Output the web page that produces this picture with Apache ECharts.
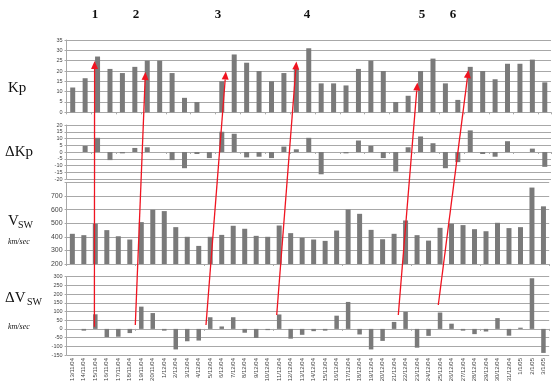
<!DOCTYPE html>
<html>
	<head>
		<meta charset="utf-8">
	</head>
	<body style="margin: 0">
		<div id="container" style="width: 555px; height: 391px"></div>
		<script type="text/javascript" src="https://cdn.jsdelivr.net/npm/echarts@6/dist/echarts.min.js"></script>
		<script type="text/javascript">
			// Kp panel (39 days) and its day-to-day change
			const kpDays = ['1', '2', '3', '4', '5', '6', '7', '8', '9', '10', '11', '12', '13', '14', '15', '16', '17', '18', '19', '20',
				'21', '22', '23', '24', '25', '26', '27', '28', '29', '30', '31', '32', '33', '34', '35', '36', '37', '38', '39']
			const kpValues = [12, 16.5, 27, 21, 19, 22, 25, 25, 19, 7, 5, 0, 15, 28, 24, 20, 15, 19, 21, 31,
				14, 14, 13, 21, 25, 20, 5, 8, 20, 26, 14, 6, 22, 20, 16, 23.5, 23.5, 25.5, 14.5]
			const dKpValues = [null, 4.5, 10.5, -6, -1, 3, 3.5, 0, -6, -12, -1.5, -4.5, 15, 13.5, -4, -3.5, -4.5, 4, 2, 10.5,
				-16.5, 0, -1, 8.5, 4.5, -4.5, -14.5, 3.5, 11.5, 6.5, -12, -7.5, 16, -1.5, -3.5, 8, 0, 2.5, -11]

			// solar wind speed panel (42 days)
			const dates = ['13/11/04', '14/11/04', '15/11/04', '16/11/04', '17/11/04', '18/11/04', '19/11/04', '20/11/04',
				'1/12/04', '2/12/04', '3/12/04', '4/12/04', '5/12/04', '6/12/04', '7/12/04', '8/12/04', '9/12/04', '10/12/04',
				'11/12/04', '12/12/04', '13/12/04', '14/12/04', '15/12/04', '16/12/04', '17/12/04', '18/12/04', '19/12/04',
				'20/12/04', '21/12/04', '22/12/04', '23/12/04', '24/12/04', '25/12/04', '26/12/04', '27/12/04', '28/12/04',
				'29/12/04', '30/12/04', '31/12/04', '1/1/05', '2/1/05', '3/1/05']
			const vswValues = [422, 412, 496, 449, 404, 380, 508, 599, 589, 471, 400, 333, 400, 414, 481, 459, 407, 400, 483, 427,
				393, 380, 370, 446, 601, 569, 451, 382, 422, 520, 412, 372, 466, 496, 486, 456, 441, 503, 464, 471, 762, 624]
			const dVswValues = [null, -10, 84, -47, -45, -24, 128, 91, -10, -118, -71, -67, 67, 14, 67, -22, -52, -7, 83, -56,
				-34, -13, -10, 76, 155, -32, -118, -69, 40, 98, -108, -40, 94, 30, -10, -30, -15, 62, -39, 7, 291, -138]

			const markers = ['1', '2', '3', '4', '5', '6']

			var chartDom = document.getElementById('container');
			var myChart = echarts.init(chartDom);

			var gridColor = '#a8a8a8'
			var barColor = '#7a7a7a'
			var red = '#f01420'

			function valueAxis(gridIndex, min, max, interval, size, hideTop) {
				return {
					gridIndex: gridIndex,
					type: 'value',
					min: min,
					max: max,
					interval: interval,
					axisLine: { show: true, lineStyle: { color: gridColor } },
					axisTick: { show: true, length: 2, lineStyle: { color: gridColor } },
					splitLine: { show: true, lineStyle: { color: gridColor, width: 1 } },
					axisLabel: {
						fontSize: size,
						fontFamily: 'Liberation Sans',
						color: '#444',
						margin: 4,
						formatter: function (v) { return (hideTop && v === max) ? '' : v }
					}
				}
			}

			function catAxis(gridIndex, data) {
				return {
					gridIndex: gridIndex,
					type: 'category',
					data: data,
					axisLine: { show: true, lineStyle: { color: gridColor } },
					axisTick: { show: true, length: 2, lineStyle: { color: gridColor } },
					axisLabel: { show: false }
				}
			}

			function arrow(x1, y1, x2, y2) {
				var dx = x2 - x1, dy = y2 - y1
				var len = Math.sqrt(dx * dx + dy * dy)
				var ux = dx / len, uy = dy / len
				var hl = 8, hw = 3.5
				var bx = x2 - ux * hl, by = y2 - uy * hl
				return [{
					type: 'line',
					z: 100,
					shape: { x1: x1, y1: y1, x2: bx, y2: by },
					style: { stroke: red, lineWidth: 1.3 }
				}, {
					type: 'polygon',
					z: 100,
					shape: { points: [[x2, y2], [bx - uy * hw, by + ux * hw], [bx + uy * hw, by - ux * hw]] },
					style: { fill: red }
				}]
			}

			function label(text, x, y, size, extra) {
				return {
					type: 'text',
					x: x,
					y: y,
					style: Object.assign({
						text: text,
						font: size + 'px "Liberation Serif"',
						fill: '#111',
						textVerticalAlign: 'middle'
					}, extra || {})
				}
			}

			var markerX = [95, 136, 218, 307, 422, 453]
			var graphics = []
			markers.forEach(function (m, i) {
				graphics.push(label(m, markerX[i], 15, 13, { font: 'bold 13px "Liberation Serif"', textAlign: 'center' }))
			})
			graphics.push(label('Kp', 8, 88, 15))
			graphics.push(label('\u0394Kp', 5, 152, 15))
			graphics.push(label('V', 8, 221, 15))
			graphics.push(label('SW', 18, 225, 10))
			graphics.push(label('km/sec', 8, 242, 8, { font: 'italic 8px "Liberation Serif"' }))
			graphics.push(label('\u0394V', 5, 298, 15))
			graphics.push(label('SW', 27, 302, 10))
			graphics.push(label('km/sec', 8, 327, 8, { font: 'italic 8px "Liberation Serif"' }))
			// red arrows linking the panels
			graphics = graphics.concat(
				arrow(94.4, 326.7, 94.6, 61),
				arrow(135.3, 325, 145.4, 72),
				arrow(206, 325, 225.8, 71.5),
				arrow(276.7, 315, 296.4, 61.5),
				arrow(398.3, 315, 417.4, 82.5),
				arrow(438.3, 305, 468.4, 70)
			)

			var option = {
				animation: false,
				backgroundColor: '#fff',
				grid: [
					{ left: 66.5, right: 4, top: 40, height: 72.3 },
					{ left: 66.5, right: 4, top: 125, height: 54 },
					{ left: 66.6, right: 5.8, top: 182.4, height: 81.6 },
					{ left: 66.6, right: 5.8, top: 276.7, height: 78.3 }
				],
				xAxis: [
					catAxis(0, kpDays),
					catAxis(1, kpDays),
					catAxis(2, dates),
					catAxis(3, dates),
					{
						gridIndex: 3,
						type: 'category',
						data: dates,
						position: 'bottom',
						axisLine: { show: false, onZero: false },
						axisTick: { show: false },
						axisLabel: {
							interval: 0,
							rotate: 90,
							fontSize: 6,
							fontFamily: 'Liberation Sans',
							color: '#444',
							margin: 3
						}
					}
				],
				yAxis: [
					valueAxis(0, 0, 35, 5, 5.5),
					valueAxis(1, -20, 20, 5, 5.5),
					valueAxis(2, 200, 800, 100, 7, true),
					valueAxis(3, -150, 300, 50, 5.5)
				],
				series: [{
						name: 'Kp',
						type: 'bar',
						xAxisIndex: 0,
						yAxisIndex: 0,
						barWidth: 5,
						itemStyle: { color: barColor },
						data: kpValues
					},
					{
						name: 'dKp',
						type: 'bar',
						xAxisIndex: 1,
						yAxisIndex: 1,
						barWidth: 5,
						itemStyle: { color: barColor },
						data: dKpValues
					},
					{
						name: 'Vsw',
						type: 'bar',
						xAxisIndex: 2,
						yAxisIndex: 2,
						barWidth: 5,
						itemStyle: { color: barColor },
						data: vswValues
					},
					{
						name: 'dVsw',
						type: 'bar',
						xAxisIndex: 3,
						yAxisIndex: 3,
						barWidth: 4.5,
						itemStyle: { color: barColor },
						data: dVswValues
					}
				],
				graphic: graphics
			};
			myChart.setOption(option);
		</script>
	</body>
</html>
